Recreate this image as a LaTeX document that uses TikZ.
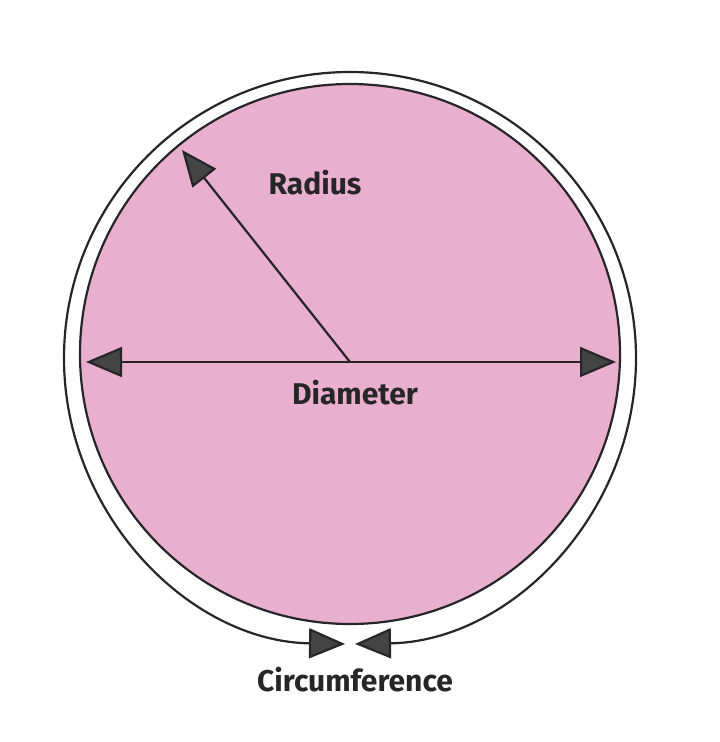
\documentclass[tikz,border=0pt]{standalone}
\usepackage{fontspec}
\setmainfont{Fira Sans}
\usetikzlibrary{arrows.meta}
\definecolor{circlepink}{HTML}{E9AFCF}
\definecolor{tipgray}{HTML}{444444}
\begin{document}
\begin{tikzpicture}[x=1pt,y=-1pt,
    label/.style={font=\fontsize{30}{34}\selectfont\bfseries, text=black!85},
    arrow/.style={-{Triangle[length=36pt,width=30pt,fill=tipgray]}, line width=2.2pt, draw=black!85}
]
\useasboundingbox (0,0) rectangle (720,742);

% Circles
\coordinate (centre) at (350,362);
\fill[circlepink, draw=black!85, line width=2.2pt] (350,354) circle (270);
\draw[arrow] (350,358) ++(90:-286) arc[start angle=-90, end angle=-269, radius=286];
\draw[arrow] (350,358) ++(90:-286) arc[start angle=-90, end angle=89, radius=286];

% Points on the circle
\coordinate (left) at (86,362);
\coordinate (right) at (616,362);
\coordinate (top) at (182,150);

% Radius and diameter
\draw[arrow] (centre) -- (top);
\draw[arrow] (centre) -- (left);
\draw[arrow] (centre) -- (right);

% Labels
\node[label] (radius) at (315,183) {Radius};
\node[label] (diameter) at (355,393) {Diameter};
\node[label] (circumference) at (355,680) {Circumference};
\end{tikzpicture}
\end{document}
